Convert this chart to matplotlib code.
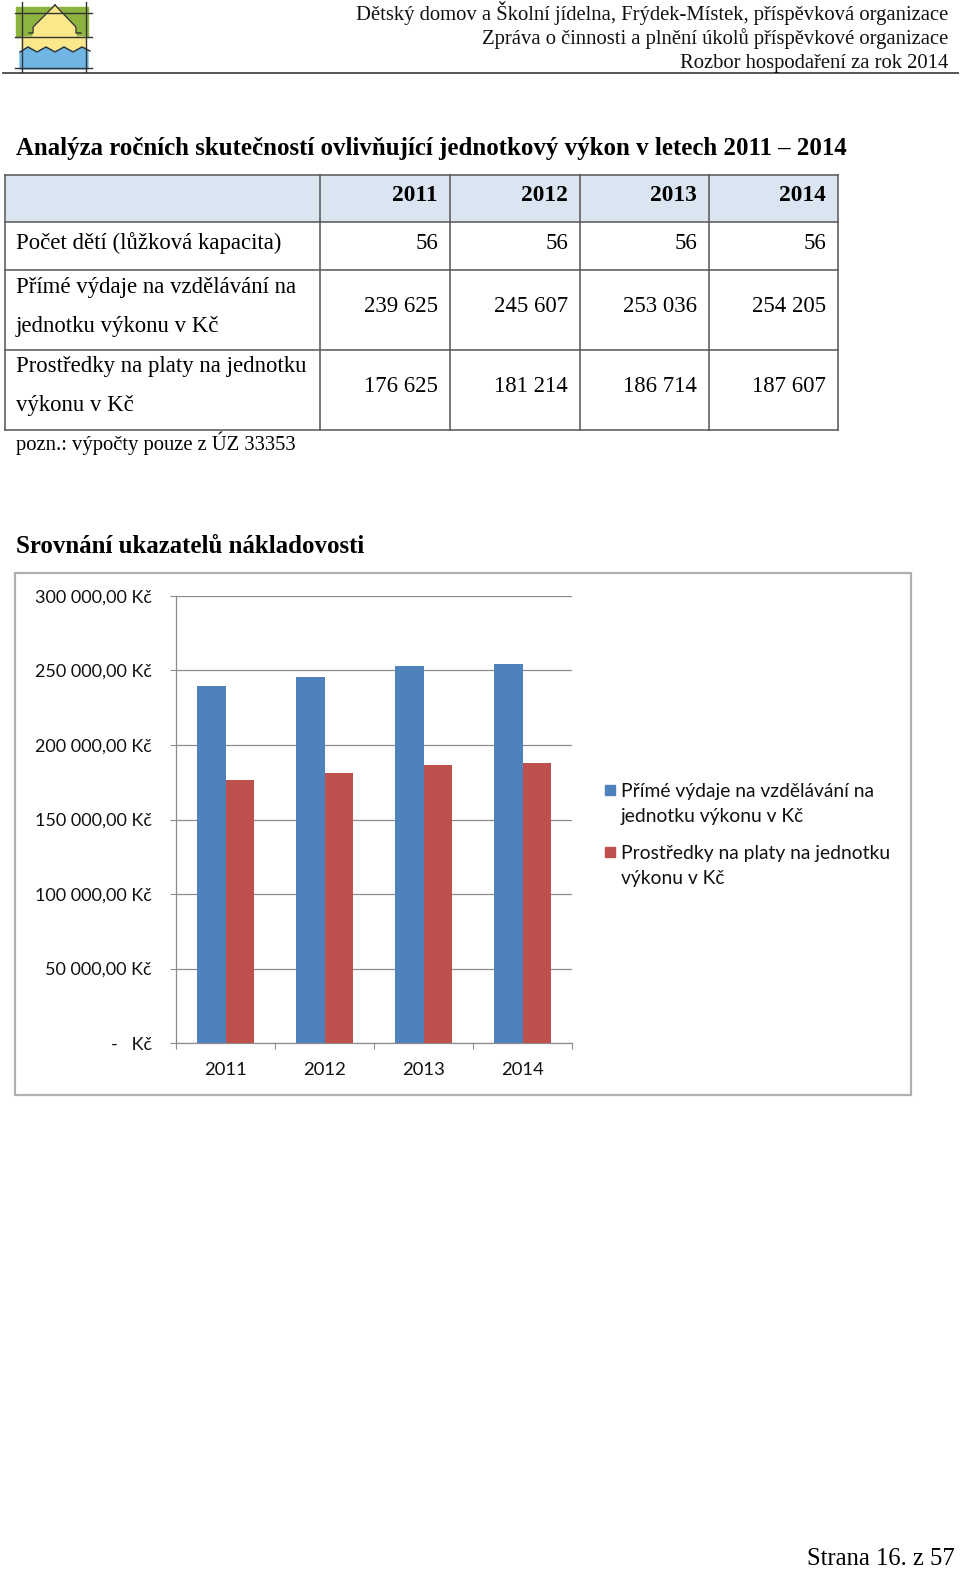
import matplotlib
matplotlib.use("Agg")
import matplotlib.pyplot as plt
from matplotlib.patches import Rectangle, Polygon
from matplotlib.ticker import FuncFormatter, FixedLocator
import numpy as np

# data
years = ["2011", "2012", "2013", "2014"]
row_labels = ["Počet dětí (lůžková kapacita)",
              "Přímé výdaje na vzdělávání na\njednotku výkonu v Kč",
              "Prostředky na platy na jednotku\nvýkonu v Kč"]
children = [56, 56, 56, 56]
direct_costs = [239625, 245607, 253036, 254205]
salary_costs = [176625, 181214, 186714, 187607]
series_names = ["Přímé výdaje na vzdělávání na\njednotku výkonu v Kč",
                "Prostředky na platy na jednotku\nvýkonu v Kč"]
colors = ["#4f81bd", "#c0504d"]

header_lines = ["Dětský domov a Školní jídelna, Frýdek-Místek, příspěvková organizace",
                "Zpráva o činnosti a plnění úkolů příspěvkové organizace",
                "Rozbor hospodaření za rok 2014"]

W, H = 960, 1569
SERIF = "Liberation Serif"
SANS = "Lato"

fig = plt.figure(figsize=(W / 100, H / 100), dpi=100)
page = fig.add_axes([0, 0, 1, 1])
page.set_xlim(0, W)
page.set_ylim(H, 0)
page.axis("off")

# logo
page.add_patch(Rectangle((16, 7), 72, 30, color="#8db43e", zorder=1))
page.add_patch(Polygon([(22, 37), (33, 37), (33, 27), (55, 5), (76, 27), (76, 37),
                        (86, 37), (86, 54), (22, 54)], color="#fbe88a", zorder=2))
page.add_patch(Polygon([(20, 52), (28, 47), (37, 52), (46, 47), (55, 52), (64, 47),
                        (73, 52), (82, 47), (88, 50), (88, 69), (20, 69)],
                       color="#6fb6e4", zorder=3))
page.plot([55, 33, 33, 29], [5, 27, 33, 33], color="#333333", lw=1.0, zorder=4)
page.plot([55, 76, 76, 81], [5, 27, 33, 33], color="#333333", lw=1.0, zorder=4)
for yy in [13, 37, 68]:
    page.plot([15, 92], [yy, yy], color="#333333", lw=1.0, zorder=4)
page.plot([20, 28, 37, 46, 55, 64, 73, 82, 90], [52, 47, 52, 47, 52, 47, 52, 47, 51],
          color="#333333", lw=1.0, zorder=4)
for xx in [22, 86]:
    page.plot([xx, xx], [2, 72], color="#333333", lw=1.0, zorder=4)

# header
for i, line in enumerate(header_lines):
    page.text(948, 20 + 24 * i, line, ha="right", va="baseline",
              family=SERIF, fontsize=14.9, color="#111111")
page.plot([3, 958], [73, 73], color="#555555", lw=1.4)

page.text(16, 155, "Analýza ročních skutečností ovlivňující jednotkový výkon v letech 2011 – 2014",
          ha="left", va="baseline", family=SERIF, fontsize=17.9, weight="bold")

# table
col_x = [5, 320, 450, 580, 709, 838]
row_y = [175, 222, 270, 350, 430]
page.add_patch(Rectangle((col_x[0], row_y[0]), col_x[-1] - col_x[0], row_y[1] - row_y[0],
                         facecolor="#dbe5f1", edgecolor="none", zorder=0))
for yy in row_y:
    page.plot([col_x[0], col_x[-1]], [yy, yy], color="#555555", lw=1.1)
for xx in col_x:
    page.plot([xx, xx], [row_y[0], row_y[-1]], color="#555555", lw=1.1)

fmt_num = lambda v: f"{v:,}".replace(",", " ")
for j, yr in enumerate(years):
    page.text(col_x[j + 2] - 12, 201, yr, ha="right", va="baseline",
              family=SERIF, fontsize=16.8, weight="bold")
table_rows = [children, direct_costs, salary_costs]
value_base = [249, 312, 392]
label_base = [249, 293, 372]
for r, vals in enumerate(table_rows):
    for k, part in enumerate(row_labels[r].split("\n")):
        page.text(16, label_base[r] + 39 * k, part, ha="left", va="baseline",
                  family=SERIF, fontsize=16.4)
    for j, v in enumerate(vals):
        page.text(col_x[j + 2] - 12, value_base[r], fmt_num(v), ha="right",
                  va="baseline", family=SERIF, fontsize=16.4)
page.text(16, 450, "pozn.: výpočty pouze z ÚZ 33353", ha="left", va="baseline",
          family=SERIF, fontsize=14.9)

page.text(16, 553, "Srovnání ukazatelů nákladovosti", ha="left", va="baseline",
          family=SERIF, fontsize=17.9, weight="bold")

# chart frame
page.add_patch(Rectangle((15, 573), 896, 522, facecolor="none", edgecolor="#b0b0b0", lw=1.6))

# legend (drawn by hand to keep the square on the first line)
leg_top = [785, 847]
for s in range(2):
    page.add_patch(Rectangle((605, leg_top[s]), 10, 10, color=colors[s]))
    for k, part in enumerate(series_names[s].split("\n")):
        page.text(621, leg_top[s] + 12 + 25 * k, part, ha="left", va="baseline",
                  family=SANS, fontsize=13.9, color="#111111")

page.text(955, 1565, "Strana 16. z 57", ha="right", va="baseline",
          family=SERIF, fontsize=17.7)

# bar chart
ax_l, ax_r, ax_t, ax_b = 176, 572, 596, 1043
ax = fig.add_axes([ax_l / W, 1 - ax_b / H, (ax_r - ax_l) / W, (ax_b - ax_t) / H])
ax.patch.set_alpha(0)
x = np.arange(len(years))
bw = 1 / 3.5
ax.bar(x - bw / 2, direct_costs, bw, color=colors[0], zorder=3)
ax.bar(x + bw / 2, salary_costs, bw, color=colors[1], zorder=3)
ax.set_xlim(-0.5, len(years) - 0.5)
ax.set_ylim(0, 300000)
ax.set_yticks(np.arange(0, 300001, 50000))
ax.yaxis.grid(True, color="#8c8c8c", lw=0.9, zorder=0)


def kc(v, pos):
    if v == 0:
        return "-   Kč"
    return f"{v:,.2f}".replace(",", " ").replace(".", ",") + " Kč"


ax.yaxis.set_major_formatter(FuncFormatter(kc))
ax.xaxis.set_major_locator(FixedLocator(np.arange(-0.5, len(years), 1.0)))
ax.xaxis.set_major_formatter(FuncFormatter(lambda v, p: ""))
ax.xaxis.set_minor_locator(FixedLocator(x))
ax.set_xticklabels(years, minor=True)
ax.tick_params(axis="x", which="major", length=4.3, color="#8c8c8c", direction="out")
ax.tick_params(axis="x", which="minor", length=0, pad=13.5, labelsize=13.3)
ax.tick_params(axis="y", length=4.3, color="#8c8c8c", pad=13, labelsize=13)
for lab in ax.get_xticklabels(minor=True) + ax.get_yticklabels():
    lab.set_family(SANS)
    lab.set_color("#111111")
for side in ["top", "right"]:
    ax.spines[side].set_visible(False)
for side in ["left", "bottom"]:
    ax.spines[side].set_color("#8c8c8c")
    ax.spines[side].set_linewidth(0.9)

fig.savefig("out.png", dpi=100)
